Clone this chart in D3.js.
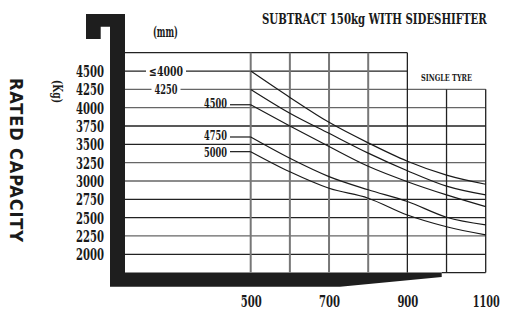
<!DOCTYPE html>
<html>
<head>
<meta charset="utf-8">
<script src="https://cdn.jsdelivr.net/npm/d3@7"></script>
<style>
  body { margin: 0; background: #fff; }
  svg { display: block; }
  text { font-family: "DejaVu Serif Condensed", "Liberation Serif", serif; font-weight: bold; fill: #1a1a1a; }
</style>
</head>
<body>
<div id="chart"></div>
<script>
// load centre (mm) along x, capacity (kg) along y
var centres = [500, 600, 700, 800, 900, 1000, 1100];
var xTickLabels = [500, 700, 900, 1100];
var yTickLabels = [4500, 4250, 4000, 3750, 3500, 3250, 3000, 2750, 2500, 2250, 2000];
var liftHeights = ["≤4000", "4250", "4500", "4750", "5000"];

var capLe4000 = [4500, 4140, 3800, 3520, 3270, 3080, 2955];
var cap4250 = [4250, 3925, 3650, 3380, 3140, 2930, 2810];
var cap4500 = [4040, 3750, 3470, 3200, 2990, 2810, 2650];
var cap4750 = [3600, 3310, 3060, 2880, 2720, 2505, 2400];
var cap5000 = [3400, 3125, 2900, 2765, 2535, 2375, 2265];
var series = [capLe4000, cap4250, cap4500, cap4750, cap5000];

var width = 505, height = 313;
var svg = d3.select("#chart").append("svg")
  .attr("width", width)
  .attr("height", height);

var x = d3.scaleLinear().domain([500, 1100]).range([250.7, 485.7]);
var y = d3.scaleLinear().domain([1750, 4750]).range([272.6, 52.7]);
var plotLeft = 125;

// squeeze a text horizontally to a given width (the print uses a condensed face)
function label(g, px, py, str, size, w, anchor, dy, rot) {
  var t = g.append("text")
    .attr("font-size", size)
    .attr("text-anchor", anchor || "start")
    .attr("dy", dy || 0)
    .text(str);
  var k = w / t.node().getComputedTextLength();
  t.attr("transform", "translate(" + px + "," + py + ")" + (rot ? " rotate(90)" : "") + " scale(" + k + ",1)");
  return t;
}

// heavy black frame
var frame = [
  [86, 14], [plotLeft, 14], [plotLeft, y(1750)], [441.7, y(1750)], [441.7, 277],
  [340, 286.7], [110, 286.7], [110, 26.7], [100.7, 26.7], [100.7, 39], [86, 39]
];
svg.append("path")
  .attr("d", d3.line()(frame) + "Z")
  .attr("fill", "#1e1e1e");

// grid
var darkRows = [4750, 4500, 3750, 3500, 2750, 2500, 2000];
var rows = d3.range(2000, 4751, 250);
svg.append("g").selectAll("line")
  .data(rows).enter()
  .append("line")
  .attr("x1", plotLeft)
  .attr("x2", function(d) { return d > 4250 ? x(900) : x(1100); })
  .attr("y1", function(d) { return y(d); })
  .attr("y2", function(d) { return y(d); })
  .attr("stroke", function(d) { return darkRows.indexOf(d) >= 0 ? "#222" : "#666"; })
  .attr("stroke-width", 1.3);

// bottom border of right block
svg.append("line")
  .attr("x1", 441.7).attr("x2", x(1100))
  .attr("y1", y(1750)).attr("y2", y(1750))
  .attr("stroke", "#222").attr("stroke-width", 1.3);

svg.append("g").selectAll("line")
  .data(centres).enter()
  .append("line")
  .attr("x1", function(d) { return x(d); })
  .attr("x2", function(d) { return x(d); })
  .attr("y1", function(d) { return d > 900 ? y(4250) : y(4750); })
  .attr("y2", y(1750))
  .attr("stroke", function(d) { return d >= 900 ? "#222" : "#777"; })
  .attr("stroke-width", function(d) { return d >= 900 ? 1.3 : 2; });

// capacity curves
var line = d3.line()
  .x(function(d, i) { return x(centres[i]); })
  .y(function(d) { return y(d); })
  .curve(d3.curveMonotoneX);

svg.append("g").selectAll("path")
  .data(series).enter()
  .append("path")
  .attr("d", line)
  .attr("fill", "none")
  .attr("stroke", "#1a1a1a")
  .attr("stroke-width", 1.2);

// lift height labels: first two sit on the grid rows, others get a leader
var nudge = [0, 0, -1, -1.5, 0.8];
series.forEach(function(s, i) {
  var yy = y(s[0]);
  if (i < 2) {
    var cx = 166, w = i == 0 ? 34 : 23;
    svg.append("rect")
      .attr("x", cx - w / 2 - 3).attr("y", yy - 7)
      .attr("width", w + 6).attr("height", 14)
      .attr("fill", "#fff");
    label(svg, cx, yy, liftHeights[i], 13, w, "middle", "0.35em");
  } else {
    svg.append("line")
      .attr("x1", 230).attr("x2", x(500))
      .attr("y1", yy).attr("y2", yy)
      .attr("stroke", "#1a1a1a").attr("stroke-width", 1.2);
    label(svg, 227, yy + nudge[i], liftHeights[i], 12.5, 23, "end", "0.35em");
  }
});

// y tick labels
var yg = svg.append("g");
yTickLabels.forEach(function(d) {
  label(yg, 104, y(d), d, 17, 28, "end", "0.36em");
});

// x tick labels
var xg = svg.append("g");
xTickLabels.forEach(function(d) {
  label(xg, x(d) + 0.5, 307, d, 17, d >= 1000 ? 27 : 21, "middle");
});

// titles and units
label(svg, 262, 23.5, "SUBTRACT 150kg WITH SIDESHIFTER", 15.5, 225);
label(svg, 153, 37, "(mm)", 14, 25);
label(svg, 53, 80, "(Kg)", 13, 23, "start", 0, true);
label(svg, 421, 80.5, "SINGLE TYRE", 10, 51);

var rc = svg.append("text")
  .style("font-family", "'DejaVu Sans Condensed', 'DejaVu Sans', sans-serif")
  .attr("font-size", 18)
  .text("RATED CAPACITY");
var natural = rc.node().getComputedTextLength();
rc.attr("letter-spacing", (164 - natural) / 13)
  .attr("transform", "translate(10,78) rotate(90)");
</script>
</body>
</html>
